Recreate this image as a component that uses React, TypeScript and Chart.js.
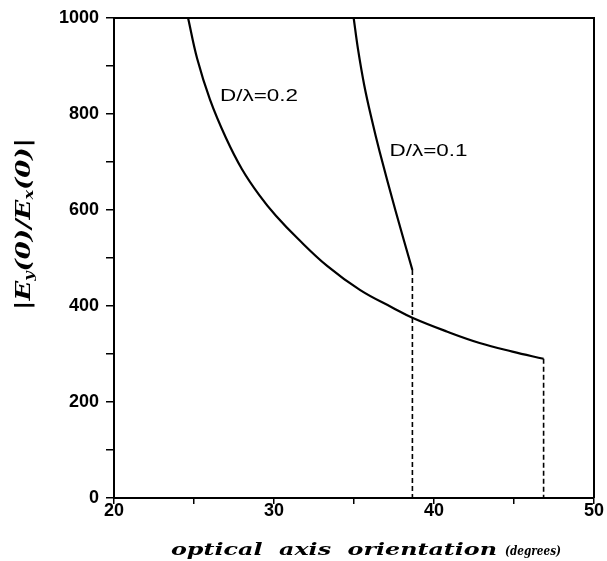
import { useEffect, useRef } from 'react';
import { Chart, registerables } from 'chart.js';

Chart.register(...registerables);

// D/λ = 0.2 curve
const curve02X = [24.63, 25.2, 26.0, 27.0, 28.0, 29.08, 30.12, 31.5, 33.34, 35.39, 37.44, 38.68, 40.79, 42.85, 44.9, 46.85];
const curve02Y = [1000, 915, 830, 750, 685, 631, 588, 540, 483, 433, 396, 375, 347, 323, 305, 290];
// D/λ = 0.1 curve
const curve01X = [34.98, 35.25, 35.64, 36.1, 36.6, 37.6, 38.65];
const curve01Y = [1000, 935, 860, 790, 722, 598, 475];
// dashed drop lines at the curve ends
const dropX = [38.65, 46.85];
const dropTopY = [475, 290];
// curve labels
const labelTexts = ['D/λ=0.2', 'D/λ=0.1'];
const labelX = [29.06, 39.66];
const labelY = [840, 725];

const xMin = 20, xMax = 50, xStep = 5;
const yMin = 0, yMax = 1000, yStep = 100;

const toPts = (xs: number[], ys: number[]) => xs.map((x, i) => ({ x, y: ys[i] }));

type Run = { t: string; font: string; dy: number };

function drawRuns(ctx: CanvasRenderingContext2D, runs: Run[], cx: number, cy: number, targetW: number, rot: number) {
  ctx.save();
  let w = 0;
  const widths = runs.map(r => { ctx.font = r.font; const m = ctx.measureText(r.t).width; w += m; return m; });
  const sx = targetW / w;
  ctx.translate(cx, cy);
  ctx.rotate(rot);
  ctx.scale(sx, 1);
  ctx.textBaseline = 'alphabetic';
  ctx.textAlign = 'left';
  ctx.fillStyle = '#000';
  let x = -w / 2;
  runs.forEach((r, i) => { ctx.font = r.font; ctx.fillText(r.t, x, r.dy); x += widths[i]; });
  ctx.restore();
}

const textPlugin = {
  id: 'textPlugin',
  afterDraw(chart: any) {
    const ctx: CanvasRenderingContext2D = chart.ctx;
    const ca = chart.chartArea;
    const xs = chart.scales.x, ys = chart.scales.y;
    ctx.save();
    ctx.strokeStyle = '#000';
    ctx.lineWidth = 2;
    ctx.beginPath();
    ctx.moveTo(ca.left, ca.top);
    ctx.lineTo(ca.right, ca.top);
    ctx.lineTo(ca.right, ca.bottom);
    ctx.stroke();
    ctx.restore();

    labelTexts.forEach((t, i) => {
      const px = xs.getPixelForValue(labelX[i]);
      const py = ys.getPixelForValue(labelY[i]);
      drawRuns(ctx, [{ t, font: '17px "Liberation Sans"', dy: 6 }], px, py, 78, 0);
    });

    // x axis title
    drawRuns(ctx, [{ t: 'optical  axis  orientation', font: 'bold italic 17px "DejaVu Serif"', dy: 0 }], 334, 555, 326, 0);
    drawRuns(ctx, [{ t: '(degrees)', font: 'bold italic 12px "DejaVu Serif"', dy: 0 }], 533, 555, 56, 0);

    // y axis title
    const big = 'bold italic 21px "DejaVu Serif"';
    const small = 'bold italic 13px "DejaVu Serif"';
    drawRuns(ctx, [
      { t: '|E', font: big, dy: 0 },
      { t: 'y', font: small, dy: 3 },
      { t: '(0)/E', font: big, dy: 0 },
      { t: 'x', font: small, dy: 3 },
      { t: '(0)|', font: big, dy: 0 },
    ], 30, 224, 172, -Math.PI / 2);
  },
};

export default function App() {
  const ref = useRef<HTMLCanvasElement>(null);
  useEffect(() => {
    document.body.style.margin = '0';
    const tickFont = { family: '"Liberation Sans", Arial, sans-serif', size: 18, weight: 'bold' as const };
    const chart = new Chart(ref.current!, {
      type: 'scatter',
      data: {
        datasets: [
          { data: toPts(curve02X, curve02Y), showLine: true, borderColor: '#000', borderWidth: 2.2, pointRadius: 0, tension: 0.4 },
          { data: toPts(curve01X, curve01Y), showLine: true, borderColor: '#000', borderWidth: 2.2, pointRadius: 0, tension: 0.4 },
          ...dropX.map((dx, i) => ({
            data: [{ x: dx, y: dropTopY[i] }, { x: dx, y: 0 }],
            showLine: true, borderColor: '#000', borderWidth: 1.6, borderDash: [5, 3], pointRadius: 0,
          })),
        ],
      },
      options: {
        responsive: false,
        animation: false,
        layout: { padding: { top: 18, right: 13, left: 0, bottom: 0 } },
        plugins: { legend: { display: false }, tooltip: { enabled: false } },
        scales: {
          x: {
            type: 'linear', min: xMin, max: xMax,
            afterFit: (s: any) => { s.height = 63; },
            ticks: {
              stepSize: xStep, color: '#000', font: tickFont, padding: -4, maxRotation: 0,
              callback: (v: any) => (Number(v) % 10 === 0 ? String(v) : ''),
            },
            grid: { drawOnChartArea: false, drawTicks: true, tickLength: 6, color: '#000', lineWidth: 1.5 },
            border: { display: true, color: '#000', width: 2 },
          },
          y: {
            type: 'linear', min: yMin, max: yMax,
            afterFit: (s: any) => { s.width = 114; },
            ticks: {
              stepSize: yStep, color: '#000', font: tickFont, padding: 7,
              callback: (v: any) => (Number(v) % 200 === 0 ? String(v) : ''),
            },
            grid: { drawOnChartArea: false, drawTicks: true, tickLength: 8, color: '#000', lineWidth: 1.5 },
            border: { display: true, color: '#000', width: 2 },
          },
        },
      },
      plugins: [textPlugin],
    } as any);
    return () => chart.destroy();
  }, []);
  return <canvas ref={ref} width={607} height={561} />;
}
